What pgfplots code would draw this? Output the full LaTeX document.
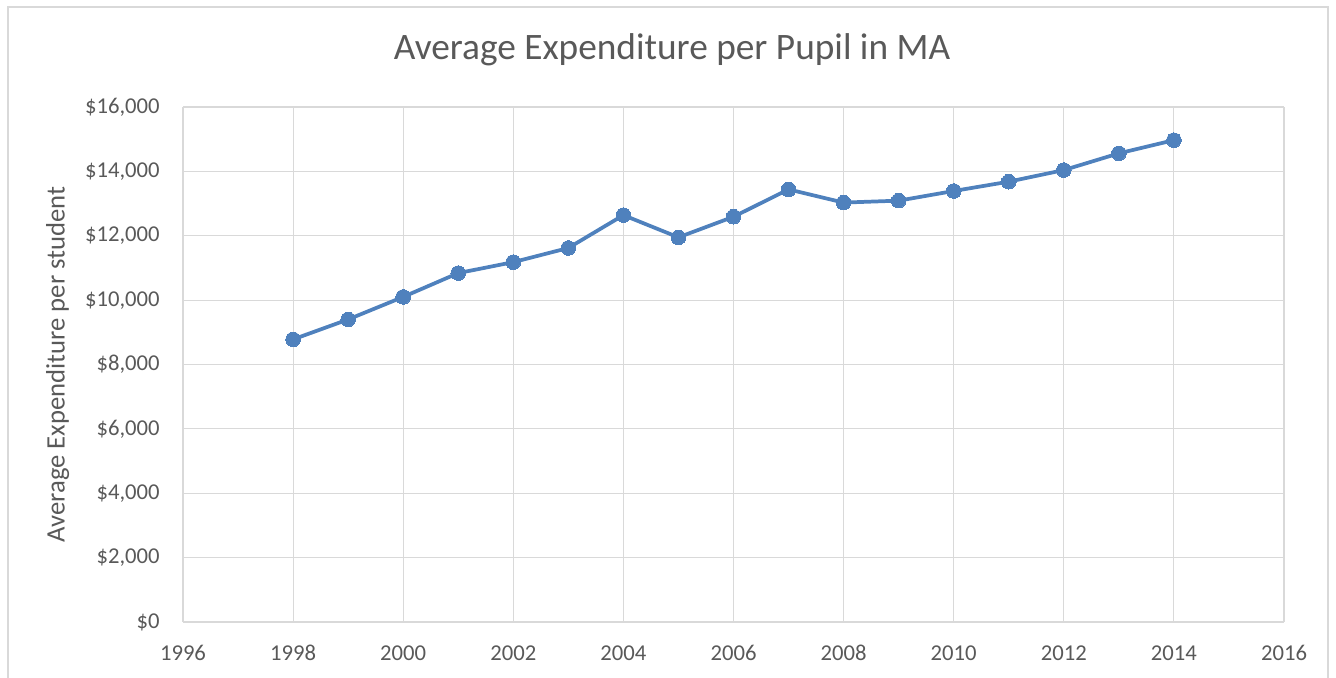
\documentclass[border=0pt]{standalone}
\usepackage{pgfplots}
\pgfplotsset{compat=1.18}
\usepackage{fontspec}
\setmainfont{Carlito}
\definecolor{txt}{RGB}{89,89,89}
\definecolor{gridc}{RGB}{217,217,217}
\definecolor{ser}{RGB}{79,129,189}
\begin{document}
\begin{tikzpicture}
\useasboundingbox (0,0) rectangle (1002pt,508.5pt);
\draw[gridc, line width=1.1pt] (6pt,-10pt) -- (6pt,503.25pt) -- (996pt,503.25pt) -- (996pt,-10pt);
\node[txt, font=\fontsize{28}{33}\selectfont] at (504pt,471pt) {Average Expenditure per Pupil in MA};
\begin{axis}[
  at={(137.25pt,42pt)}, anchor=south west,
  scale only axis, width=825.75pt, height=386.25pt,
  xmin=1996, xmax=2016, ymin=0, ymax=16000,
  scaled y ticks=false, scaled x ticks=false,
  xtick={1996,1998,...,2016},
  xticklabels={1996,1998,2000,2002,2004,2006,2008,2010,2012,2014,2016},
  ytick={0,2000,...,16000},
  yticklabels={{\$0},{\$2,000},{\$4,000},{\$6,000},{\$8,000},{\$10,000},{\$12,000},{\$14,000},{\$16,000}},
  axis line style={draw=none},
  major tick length=0pt,
  grid=major,
  major grid style={gridc, line width=0.8pt},
  tick label style={txt, font=\fontsize{17}{20}\selectfont},
  xticklabel style={anchor=north, yshift=-14pt, text height=11pt, text depth=0pt},
  yticklabel style={anchor=east, xshift=-14pt},
  ylabel={Average Expenditure per student},
  every axis y label/.style={at={(rel axis cs:0,0.5)}, rotate=90, anchor=center, yshift=94pt, txt, font=\fontsize{20}{24}\selectfont},
  clip=false,
]
\addplot[ser, line width=2.8pt, mark=*, mark size=5.5pt, mark options={fill=ser, draw=ser, line width=0pt}] coordinates {
(1998,8780) (1999,9400) (2000,10100) (2001,10840) (2002,11180) (2003,11620)
(2004,12640) (2005,11950) (2006,12590) (2007,13440) (2008,13030) (2009,13090)
(2010,13390) (2011,13680) (2012,14040) (2013,14560) (2014,14970)
};
\end{axis}
\end{tikzpicture}
\end{document}
